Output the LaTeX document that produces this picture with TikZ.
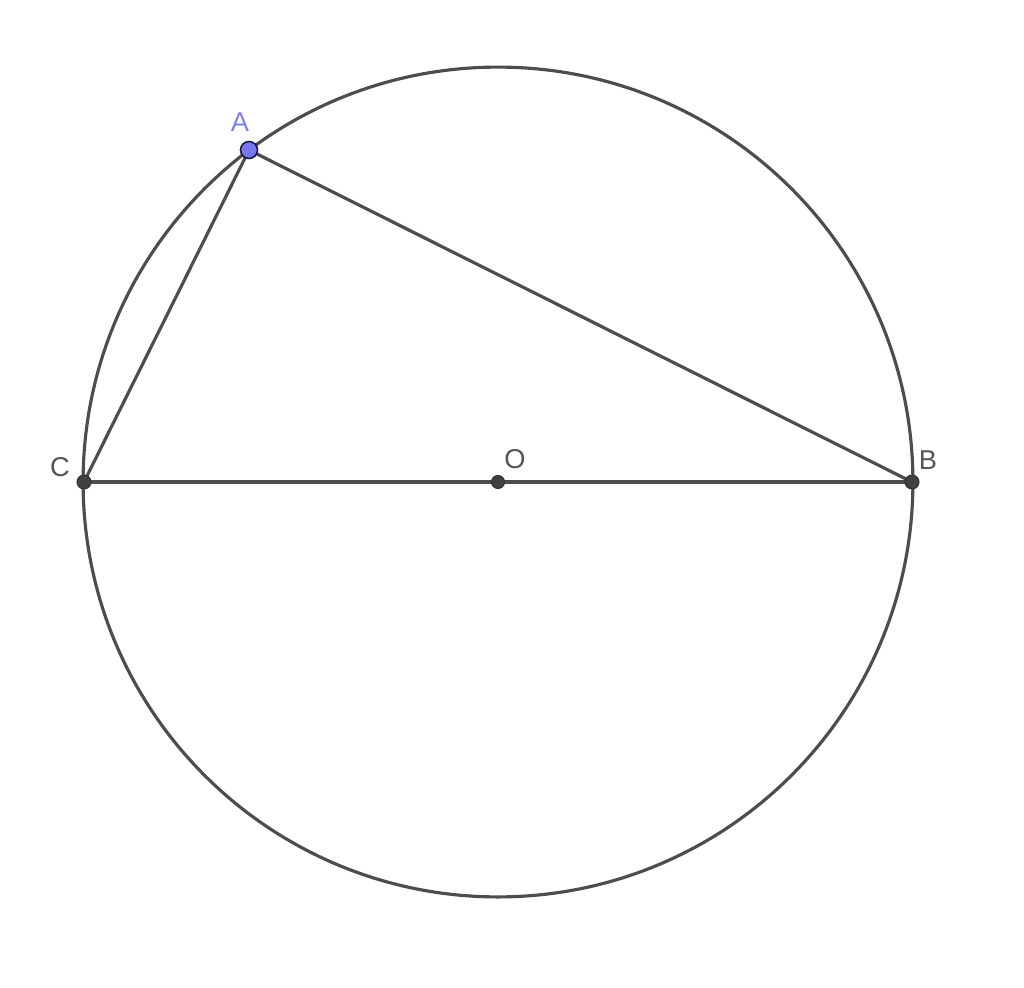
\documentclass[tikz,border=0pt]{standalone}
\usepackage{fontspec}
\setmainfont{Liberation Sans}
\definecolor{linegray}{HTML}{4D4D4D}
\definecolor{labgray}{HTML}{555555}
\definecolor{ablue}{HTML}{7777EE}
\definecolor{alab}{HTML}{8080E6}
\definecolor{anavy}{HTML}{1A1A4D}
\begin{document}
\begin{tikzpicture}[x=0.02cm,y=-0.02cm,
  seg/.style={draw=linegray,line width=1.8pt},
  dotpt/.style={circle,fill=linegray!85!black,draw=black!80,line width=0.6pt,inner sep=0pt,minimum size=0.28cm},
  apt/.style={circle,fill=ablue,draw=anavy,line width=0.9pt,inner sep=0pt,minimum size=0.34cm},
  lab/.style={text=labgray,font=\fontsize{15.5}{18}\selectfont,inner sep=0pt}]
\useasboundingbox (0,0) rectangle (1024,987);
\coordinate (Oc) at (498,482);
\draw[seg] (Oc) circle[radius=8.3cm];
\coordinate (Ac) at (249,150);
\coordinate (Bc) at (912,482);
\coordinate (Cc) at (84,482);
\draw[seg] (Cc) -- (Bc);
\draw[seg] (Cc) -- (Ac) -- (Bc);
\node[dotpt] (C) at (Cc) {};
\node[dotpt] (B) at (Bc) {};
\node[dotpt,minimum size=0.26cm] (O) at (Oc) {};
\node[apt] (A) at (Ac) {};
\node[lab,text=alab] (lA) at (240,122) {A};
\node[lab] (lC) at (60,467) {C};
\node[lab] (lO) at (515,459) {O};
\node[lab] (lB) at (928,460) {B};
\end{tikzpicture}
\end{document}
